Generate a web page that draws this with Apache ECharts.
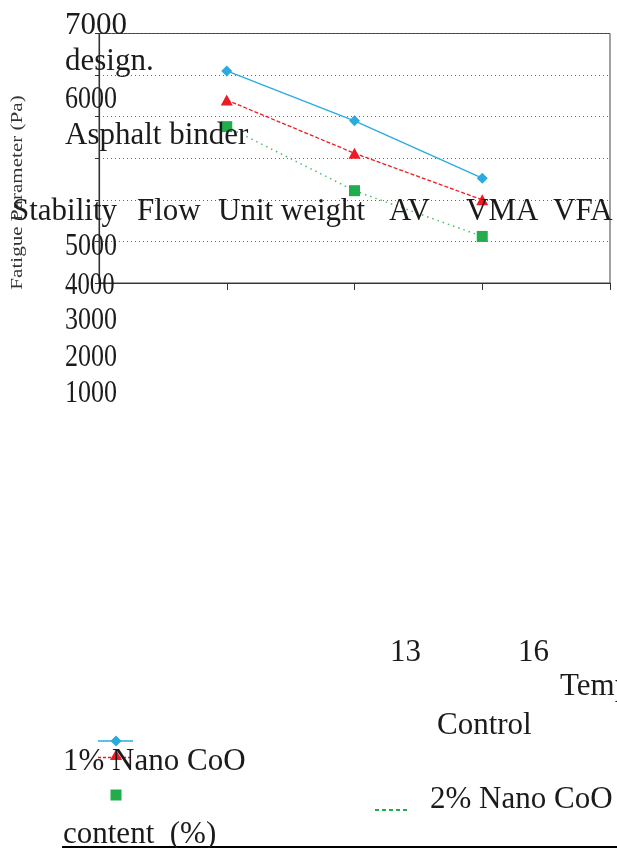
<!DOCTYPE html>
<html>
<head>
<meta charset="utf-8">
<script src="https://cdn.jsdelivr.net/npm/echarts@6/dist/echarts.min.js"></script>
<style>
html,body{margin:0;padding:0;background:#fff;}
#chart{width:617px;height:848px;}
</style>
</head>
<body>
<div id="chart"></div>
<script>
// ---- data ----
var xValues = [10, 13, 16];
var seriesNames = ['Control', '1% Nano CoO', '2% Nano CoO'];
var controlValues = [6550, 5950, 5260];
var nano1Values = [6200, 5560, 5000];
var nano2Values = [5880, 5110, 4560];
var yTickLabels = ['7000', '6000', '5000', '4000', '3000', '2000', '1000'];
var xTickLabels = ['13', '16'];
var yAxisTitle = 'Fatigue Parameter (Pa)';
var propertyLabels = ['Stability', 'Flow', 'Unit weight', 'AV', 'VMA', 'VFA'];

function pairs(vals){ return xValues.map(function(x,i){ return [x, vals[i]]; }); }

var FONT = '"Liberation Serif", "Times New Roman", serif';
var TXT = '#1c1a1b';
var FS = 31;

function txt(s, x, baseline, opts){
  opts = opts || {};
  var fs = opts.fs || FS;
  return {
    type: 'text', x: x, y: baseline - fs*0.22, scaleX: opts.sx || 1, z: 100,
    rotation: opts.rot || 0,
    style: { text: s, font: fs + 'px ' + FONT, fill: TXT, textAlign: opts.align || 'left', textVerticalAlign: 'middle' }
  };
}

var COND = 0.84;
var graphics = [
  txt(yTickLabels[0], 65, 33),
  txt('design.', 65, 69),
  txt(yTickLabels[1], 65, 106.5, {sx: COND}),
  txt('Asphalt binder', 65, 143),
  txt(propertyLabels[0], 12, 219),
  txt(propertyLabels[1], 137, 219),
  txt(propertyLabels[2], 218, 219),
  txt(propertyLabels[3], 389, 219),
  txt(propertyLabels[4], 466, 219),
  txt(propertyLabels[5], 553, 219),
  txt(yTickLabels[2], 65, 254, {sx: COND}),
  txt(yTickLabels[3], 65, 293, {sx: 0.8}),
  txt(yTickLabels[4], 65, 328, {sx: COND}),
  txt(yTickLabels[5], 65, 365, {sx: COND}),
  txt(yTickLabels[6], 65, 401, {sx: COND}),
  txt(xTickLabels[0], 390, 660),
  txt(xTickLabels[1], 518, 660),
  txt('Temp', 560, 694),
  txt(seriesNames[0], 437, 733),
  txt(seriesNames[1], 63, 769),
  txt(seriesNames[2], 430, 807),
  txt('content  (%)', 63, 842),
  {
    type: 'text', x: 18, y: 192.5, rotation: Math.PI/2, scaleX: 1.24, z: 100,
    style: { text: yAxisTitle, font: '17px ' + FONT, fill: '#333', textAlign: 'center', textVerticalAlign: 'middle' }
  },
  // bottom rule
  { type: 'line', shape: {x1: 62, y1: 847, x2: 617, y2: 847}, style: {stroke: '#000', lineWidth: 2} },
  // legend icons
  { type: 'line', shape: {x1: 98, y1: 741, x2: 133, y2: 741}, style: {stroke: '#29abe2', lineWidth: 1.3} },
  { type: 'polygon', shape: {points: [[116,735.5],[121.5,741],[116,746.5],[110.5,741]]}, style: {fill: '#29abe2'} },
  { type: 'line', shape: {x1: 98, y1: 757.5, x2: 133, y2: 757.5}, style: {stroke: '#ed1c24', lineWidth: 1.3, lineDash: [3,2]} },
  { type: 'polygon', shape: {points: [[116,749.5],[122,760],[110,760]]}, style: {fill: '#ed1c24'} },
  { type: 'rect', shape: {x: 110.5, y: 789.5, width: 11, height: 11}, style: {fill: '#1fae4b'} },
  { type: 'line', shape: {x1: 375, y1: 810, x2: 408, y2: 810}, style: {stroke: '#1fae4b', lineWidth: 1.8, lineDash: [4,3]} }
];

var chart = echarts.init(document.getElementById('chart'), null, {renderer: 'canvas'});
chart.setOption({
  animation: false,
  backgroundColor: '#fff',
  grid: { left: 99, right: 7, top: 33.5, height: 249.5, show: true, borderColor: '#444', borderWidth: 1, backgroundColor: 'transparent' },
  xAxis: {
    type: 'value', min: 7, max: 19, interval: 3,
    axisLine: { show: true, lineStyle: { color: '#333', width: 1.2 } },
    axisTick: { show: true, length: 7, inside: false, lineStyle: { color: '#333' } },
    axisLabel: { show: false },
    splitLine: { show: false }
  },
  yAxis: {
    type: 'value', min: 4000, max: 7000, interval: 500,
    axisLine: { show: true, lineStyle: { color: '#333', width: 1.2 } },
    axisTick: { show: true, length: 4, inside: false, lineStyle: { color: '#333' } },
    axisLabel: { show: false },
    splitLine: { show: true, lineStyle: { color: '#666', type: [1, 3], width: 1 } }
  },
  series: [
    { name: seriesNames[0], type: 'line', data: pairs(controlValues), symbol: 'diamond', symbolSize: 11,
      itemStyle: { color: '#29abe2' }, lineStyle: { color: '#29abe2', width: 1.3, type: 'solid' }, z: 5 },
    { name: seriesNames[1], type: 'line', data: pairs(nano1Values), symbol: 'triangle', symbolSize: [12, 11],
      itemStyle: { color: '#ed1c24' }, lineStyle: { color: '#ed1c24', width: 1.3, type: [4, 2] }, z: 4 },
    { name: seriesNames[2], type: 'line', data: pairs(nano2Values), symbol: 'rect', symbolSize: 11,
      itemStyle: { color: '#1fae4b' }, lineStyle: { color: '#46c06a', width: 1.5, type: [1.5, 4] }, z: 3 }
  ],
  graphic: graphics
});
</script>
</body>
</html>
